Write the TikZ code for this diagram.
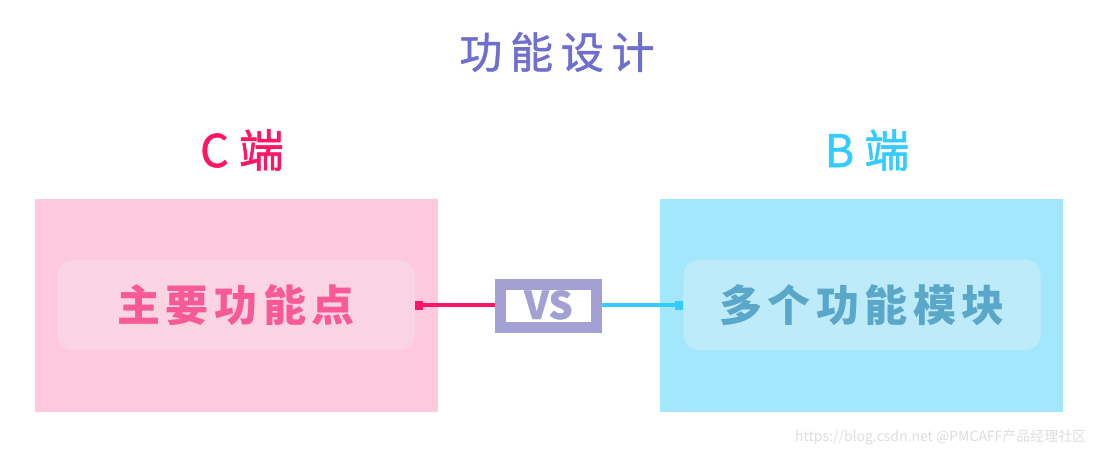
\documentclass[tikz,border=0pt]{standalone}
\usepackage{fontspec}
\setmainfont{Noto Sans CJK SC}
\usetikzlibrary{arrows.meta}
\definecolor{cpink}{HTML}{FF1466}
\definecolor{cblue}{HTML}{33CCFF}
\definecolor{titlec}{HTML}{6F6FCF}
\definecolor{pinkbg}{HTML}{FEC8DF}
\definecolor{pinkin}{HTML}{FBD4E4}
\definecolor{pinktxt}{HTML}{F75A96}
\definecolor{bluebg}{HTML}{A3E7FD}
\definecolor{bluein}{HTML}{BDEBF9}
\definecolor{bluetxt}{HTML}{5BA7C9}
\definecolor{vsc}{HTML}{A3A0D4}
\begin{document}
\begin{tikzpicture}[x=1pt,y=-1pt,>=stealth]
			\tikzset{sidebox/.style={minimum width=403pt,minimum height=213pt,inner sep=0pt,anchor=north west},
				keybox/.style={rounded corners=15pt,minimum width=357pt,minimum height=90pt,inner sep=0pt,
					font=\fontsize{43}{46}\selectfont\bfseries\addfontfeature{LetterSpace=13}},
				sidehead/.style={font=\fontsize{45}{48}\selectfont\addfontfeature{FakeBold=1.2}},
				link/.style={line width=4pt}}
			\useasboundingbox[fill=white] (0,0) rectangle (1098,457);
			% Tiêu đề
			\node[text=titlec,font=\fontsize{43}{46}\selectfont\addfontfeature{LetterSpace=18,FakeBold=1.2}] (title) at (557,52) {功能设计};
			% Hai khối nền
			\node[sidebox,fill=pinkbg] (cside) at (35,199) {};
			\node[sidebox,fill=bluebg] (bside) at (660,199) {};
			\node[sidehead,text=cpink] (chead) at (242,150) {C 端};
			\node[sidehead,text=cblue] (bhead) at (867,150) {B 端};
			% Các ô chữ bên trong
			\node[keybox,fill=pinkin,text=pinktxt] (ckey) at (236,305) {主要功能点};
			\node[keybox,fill=bluein,text=bluetxt] (bkey) at (862,305) {多个功能模块};
			% Ô VS ở giữa
			\node[draw=vsc,line width=11pt,fill=white,minimum width=96pt,minimum height=43pt,inner sep=0pt,
				text height=27pt,text depth=0pt,text=vsc,
				font=\fontsize{38}{40}\selectfont\bfseries\addfontfeature{FakeBold=1}] (vs) at (548.5,305.5) {VS};
			\draw[link,cpink,{Square[length=8pt,width=9pt]}-] (ckey.east) -- (ckey.east -| vs.west);
			\draw[link,cblue,{Square[length=8pt,width=9pt]}-] (bkey.west) -- (bkey.west -| vs.east);
			% Chữ mờ
			\node[anchor=east,text=black!13,font=\fontsize{14}{16}\selectfont] (mark) at (1090,437) {https://blog.csdn.net @PMCAFF产品经理社区};
		\end{tikzpicture}
\end{document}
